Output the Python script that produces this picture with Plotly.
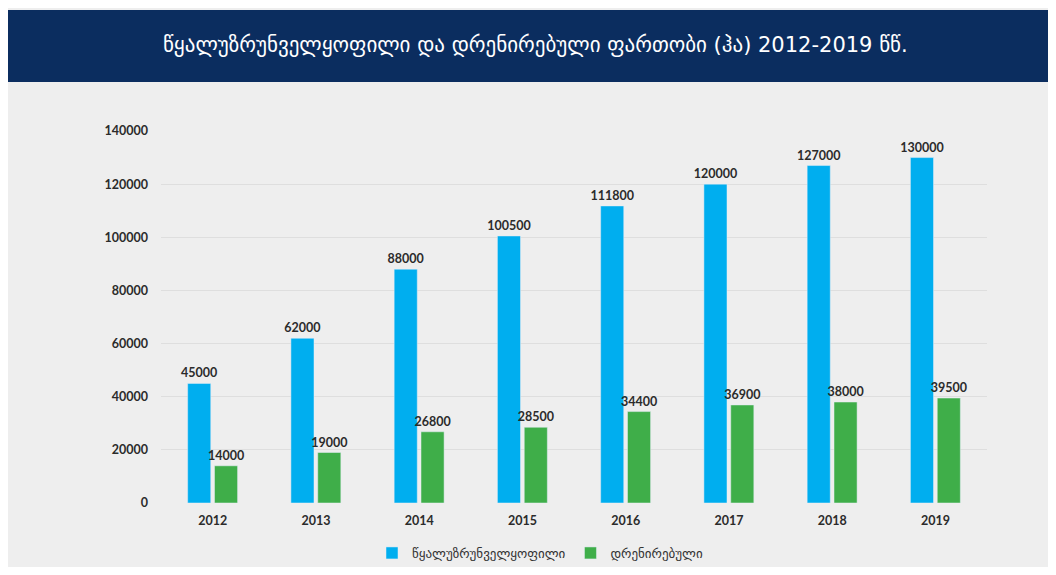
import plotly.graph_objects as go

years = ["2012", "2013", "2014", "2015", "2016", "2017", "2018", "2019"]
irrigated = [45000, 62000, 88000, 100500, 111800, 120000, 127000, 130000]
drained = [14000, 19000, 26800, 28500, 34400, 36900, 38000, 39500]
name_irr = "წყალუზრუნველყოფილი"
name_dr = "დრენირებული"
title = "წყალუზრუნველყოფილი და დრენირებული ფართობი (ჰა) 2012-2019 წწ."
y_ticks = [0, 20000, 40000, 60000, 80000, 100000, 120000, 140000]

OFF = 8  # page body margin
W, H = 1040, 559
L, R, T, B = 161 - OFF, 987 - OFF, 131 - OFF, 503 - OFF

def px_x(x):
    return (x - OFF - L) / (R - L)

def px_y(y):
    return (B - (y - OFF)) / (B - T)

num_font = dict(family="Lato, DejaVu Sans, sans-serif", size=12.5, color="#2b2b2b", weight="bold")

fig = go.Figure()
fig.add_trace(go.Bar(x=years, y=irrigated, name=name_irr, marker_color="#00aeef",
                     text=[str(v) for v in irrigated], textposition="outside",
                     constraintext="none", textfont=num_font, cliponaxis=False))
fig.add_trace(go.Bar(x=years, y=drained, name=name_dr, marker_color="#3fae49",
                     text=[str(v) for v in drained], textposition="outside",
                     constraintext="none", textfont=num_font, cliponaxis=False))

shapes = [
    dict(type="rect", xref="paper", yref="paper", x0=px_x(8), x1=px_x(1060),
         y0=px_y(82), y1=px_y(580), fillcolor="#eeeeee", line_width=0, layer="below"),
    dict(type="rect", xref="paper", yref="paper", x0=px_x(8), x1=px_x(1060),
         y0=px_y(82), y1=px_y(10), fillcolor="#0b2d5f", line_width=0, layer="below"),
]

fig.update_layout(
    width=W, height=H,
    margin=dict(l=L, r=W - R, t=T, b=H - B, pad=0, autoexpand=False),
    paper_bgcolor="#eeeeee",
    plot_bgcolor="rgba(0,0,0,0)",
    barmode="group",
    bargap=0.48,
    bargroupgap=0.14,
    shapes=shapes,
    showlegend=True,
    legend=dict(orientation="h", x=px_x(540), xanchor="center",
                y=px_y(553), yanchor="middle", itemwidth=30,
                font=dict(family="DejaVu Sans, sans-serif", size=13, color="#333333"),
                bgcolor="rgba(0,0,0,0)"),
    annotations=[dict(text=title, xref="paper", yref="paper", x=px_x(535), y=px_y(45),
                      xanchor="center", yanchor="middle", showarrow=False,
                      font=dict(family="DejaVu Sans, sans-serif", size=21, color="white"))],
    xaxis=dict(type="category", tickfont=num_font, showgrid=False, showline=False,
               ticks="", ticklabelstandoff=8),
    yaxis=dict(range=[0, 140000], tickvals=y_ticks, ticktext=[str(v) for v in y_ticks],
               tickfont=num_font, gridcolor="#dedede", gridwidth=1, zeroline=False,
               showline=False, ticks="", ticklabelstandoff=12),
)

fig.write_html("out.html")
